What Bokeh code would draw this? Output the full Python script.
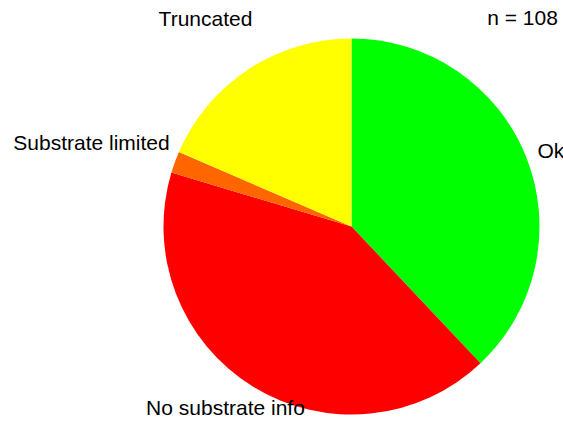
import math
from bokeh.plotting import figure
from bokeh.models import Range1d, ColumnDataSource
from bokeh.core.properties import value
from bokeh.embed import file_html
from bokeh.resources import INLINE

# ---- data ----
categories = ["Ok", "No substrate info", "Substrate limited", "Truncated"]
counts = [41, 45, 2, 20]
colors = ["#00FF00", "#FF0000", "#FF6600", "#FFFF00"]
n_label = "n = 108"

# ---- layout ----
W, H = 563, 423
CX, CY, R = 351, 197, 188
FONT = "Liberation Sans"
FS = "21px"
# label anchor positions (layout) and alignment per category
label_pos = {
    "Ok": (537, 273, "left"),
    "No substrate info": (225, 16, "center"),
    "Substrate limited": (91, 281, "center"),
    "Truncated": (205, 405, "center"),
}

total = sum(counts)
starts, ends = [], []
cum = 0
for c in counts:
    starts.append(math.pi / 2 - 2 * math.pi * cum / total)
    cum += c
    ends.append(math.pi / 2 - 2 * math.pi * cum / total)

src = ColumnDataSource(dict(cat=categories, start=starts, end=ends, color=colors))

p = figure(width=W, height=H, output_backend="svg", toolbar_location=None,
           x_range=Range1d(0, W), y_range=Range1d(0, H), min_border=0)
p.axis.visible = False
p.grid.visible = False
p.outline_line_color = None
p.background_fill_color = "white"
p.border_fill_color = "white"

p.wedge(x=CX, y=CY, radius=R, start_angle="start", end_angle="end",
        direction="clock", fill_color="color", line_color=None, source=src)

for cat in categories:
    x, y, al = label_pos[cat]
    p.text(x=[x], y=[y], text=[cat], text_font=value(FONT), text_font_size=FS,
           text_align=al, text_baseline="middle", text_color="#000000")

p.text(x=[522], y=[406], text=[n_label], text_font=value(FONT), text_font_size=FS,
       text_align="center", text_baseline="middle", text_color="#000000")

open("out.html", "w").write(file_html(p, INLINE))
